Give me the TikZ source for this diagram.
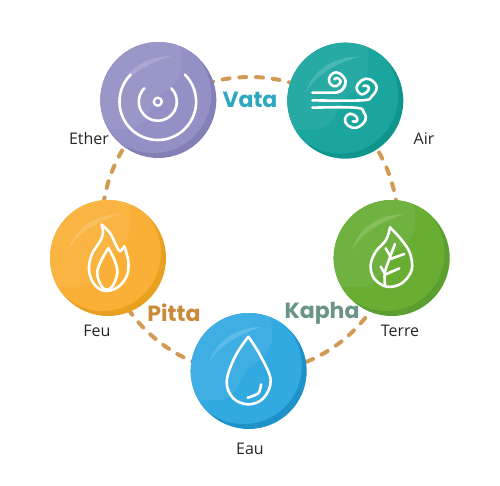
\documentclass[tikz,border=0pt]{standalone}
\usepackage{fontspec}
\setmainfont{Open Sans}
\newfontfamily\boldlab[Scale=1]{Poppins Bold}
\definecolor{ringc}{HTML}{D29B55}
\definecolor{vatac}{HTML}{2FA8BF}
\definecolor{pittac}{HTML}{C98B3A}
\definecolor{kaphac}{HTML}{6B9488}
\definecolor{ethD}{HTML}{8380B6}\definecolor{ethM}{HTML}{9390C5}
\definecolor{airD}{HTML}{0F968C}\definecolor{airM}{HTML}{1AA59E}
\definecolor{terD}{HTML}{5A9F2F}\definecolor{terM}{HTML}{67AE33}
\definecolor{eauD}{HTML}{1F93C9}\definecolor{eauM}{HTML}{33A9E2}
\definecolor{feuD}{HTML}{E8A021}\definecolor{feuM}{HTML}{FAB036}
\tikzset{
  ball/.style 2 args={circle,inner sep=0pt,minimum size=116pt,fill=#1,path picture={
    \begin{scope}[shift={(path picture bounding box.center)}]
      \fill[#2] (-5,-5) circle[radius=58];
      \fill[white,opacity=.06] (23,-60) -- (23,-40) .. controls (26,-22) and (12,-10) .. (2,-5)
         .. controls (-8,2) and (-8,25) .. (-28,29) -- (-70,29) -- (-70,-60) -- cycle;
      \fill[white,opacity=.16] (13,-44) .. controls (-8,-44) and (-32,-34) .. (-40,-7)
         .. controls (-32,-24) and (-12,-36) .. (13,-44) -- cycle;
    \end{scope}}},
  icon/.style={draw=white,line width=2.6pt,line cap=round,line join=round},
  elem/.style={font=\fontsize{16}{18}\selectfont,text=black!85,inner sep=0pt},
  dosha/.style={font=\boldlab\fontsize{22}{24}\selectfont,inner sep=0pt},
  zoomed/.style={x=.33333pt,y=-.33333pt},
  ringline/.style={draw=ringc,line width=4pt,line cap=round,dash pattern=on 7pt off 9.75pt}
}
\begin{document}
\begin{tikzpicture}[x=1pt,y=-1pt]
\useasboundingbox (0,0) rectangle (500,486);
\coordinate (ringcentre) at (250,225);
\draw[ringline] (ringcentre) circle[radius=148];

\node[ball={ethD}{ethM}] (ether) at (158.3,100) {};
\node[ball={airD}{airM}] (air) at (345.3,100.7) {};
\node[ball={terD}{terM}] (terre) at (391.7,258) {};
\node[ball={eauD}{eauM}] (eau) at (248.7,371) {};
\node[ball={feuD}{feuM}] (feu) at (108,258) {};

% Ether icon
\begin{scope}[shift={(157.8,101.7)}]
  \draw[icon] plot[smooth,samples=40,domain=135:405] ({38.3*cos(\x)},{-38.3*sin(\x)*-1*-1});
  \draw[icon] plot[smooth,samples=30,domain=135:405] ({19*cos(\x)},{-19*sin(\x)});
  \draw[icon,line width=2.4pt] (0,0) circle[radius=4];
\end{scope}

% Air icon
\begin{scope}[shift={(305,62)},zoomed]
  \draw[icon] (22,92) -- (92,92) to[out=0,in=-90] (122,58);
  \draw[icon] plot[smooth,tension=.7] coordinates {(92,92) (112,82) (122,58) (105,35) (85,33) (72,50) (78,68) (95,72) (107,58) (97,48) (88,52)};
  \draw[icon] plot[smooth,tension=.7] coordinates {(22,115) (170,115) (200,103) (215,75) (195,52) (170,55) (155,78) (170,97) (190,85) (188,72) (175,72)};
  \draw[icon] plot[smooth,tension=.7] coordinates {(22,137) (150,137) (176,150) (181,175) (155,197) (128,190) (120,170) (135,155) (155,165) (155,178) (143,178)};
\end{scope}

% Terre icon
\begin{scope}[shift={(360,220)},zoomed]
  \draw[icon] plot[smooth,tension=.6] coordinates {(90,22) (78,60) (47,95) (32,135) (42,175) (80,200) (125,190) (155,150) (150,100) (125,60) (90,22)};
  \draw[icon] plot[smooth] coordinates {(75,198) (74,160) (85,125) (105,72)};
  \draw[icon] (88,118) -- (133,102);
  \draw[icon] (77,163) -- (118,145);
  \draw[icon] (74,160) -- (62,140);
  \draw[icon] (90,107) -- (77,85);
\end{scope}

% Eau icon
\begin{scope}[shift={(180,305)},zoomed]
  \draw[icon] plot[smooth,tension=.6] coordinates {(205,95) (240,150) (272,225) (250,280) (205,298) (160,280) (140,230) (165,155) (205,95)};
  \draw[icon] plot[smooth] coordinates {(203,278) (235,265) (243,238)};
\end{scope}

% Feu icon
\begin{scope}[shift={(75,218)},zoomed]
  \draw[icon] plot[smooth,tension=.5] coordinates {(80,20) (105,45) (125,85) (135,100) (148,85)};
  \draw[icon] plot[smooth,tension=.6] coordinates {(148,85) (160,130) (155,175) (125,210) (85,218) (55,195) (42,155) (50,110) (75,70) (84,45) (80,20)};
  \draw[icon] plot[smooth,tension=.6] coordinates {(100,90) (118,125) (127,165) (112,205) (90,215) (72,190) (67,160) (80,125) (100,90)};
\end{scope}

\node[elem] (lether) at (89,139) {Ether};
\node[elem] (lair) at (424,139) {Air};
\node[elem] (lterre) at (400,331) {Terre};
\node[elem] (lfeu) at (97,331) {Feu};
\node[elem] (leau) at (250,449) {Eau};
\node[dosha,text=vatac] (vata) at (250,100) {Vata};
\node[dosha,text=pittac] (pitta) at (174,313) {Pitta};
\node[dosha,text=kaphac] (kapha) at (322,313) {Kapha};
\end{tikzpicture}
\end{document}
